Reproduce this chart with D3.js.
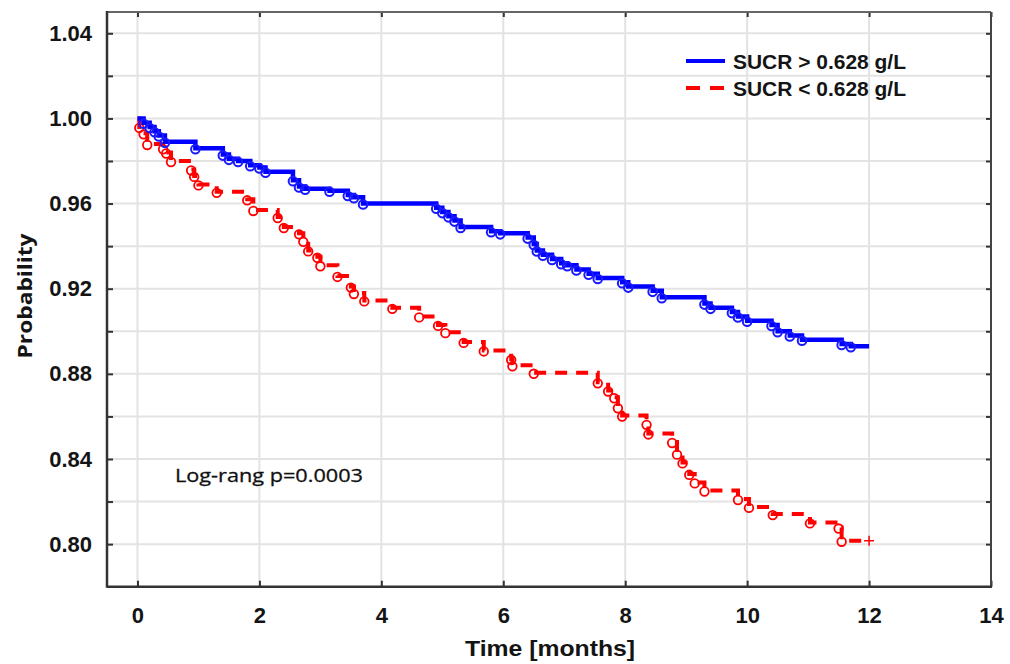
<!DOCTYPE html>
<html>
<head>
<meta charset="utf-8">
<script src="https://cdn.jsdelivr.net/npm/d3@7"></script>
<style>
  html, body { margin: 0; padding: 0; background: #fff; }
  svg { display: block; }
</style>
</head>
<body>
<svg id="chart" width="1010" height="664"></svg>
<script>
// ---- data ----
const seriesNames = ["SUCR > 0.628 g/L", "SUCR < 0.628 g/L"];

// SUCR > 0.628 g/L (blue) : step times (months) and survival probability after each step
const blueTime = [0,0.1,0.2,0.28,0.35,0.45,0.95,1.4,1.5,1.65,1.85,2.0,2.1,2.55,2.65,2.75,3.15,3.45,3.55,3.7,4.9,5.0,5.1,5.2,5.3,5.8,5.95,6.4,6.5,6.55,6.65,6.8,6.95,7.05,7.2,7.4,7.55,7.95,8.05,8.45,8.6,9.3,9.4,9.75,9.85,10.0,10.4,10.5,10.7,10.9,11.55,11.7,12.0];
const blueSurv = [1.0,0.998,0.996,0.994,0.992,0.989,0.986,0.983,0.981,0.980,0.978,0.977,0.975,0.971,0.968,0.967,0.966,0.964,0.963,0.960,0.958,0.956,0.954,0.952,0.949,0.947,0.946,0.944,0.941,0.938,0.936,0.934,0.932,0.931,0.929,0.927,0.925,0.923,0.921,0.919,0.916,0.913,0.911,0.909,0.907,0.905,0.903,0.900,0.898,0.896,0.894,0.893,0.893];

// SUCR < 0.628 g/L (red)
const redTime = [0,0.03,0.1,0.16,0.42,0.47,0.55,0.88,0.93,1.0,1.3,1.8,1.9,2.3,2.4,2.65,2.72,2.8,2.95,3.0,3.28,3.5,3.55,3.72,4.18,4.62,4.93,5.05,5.35,5.68,6.13,6.15,6.5,7.55,7.72,7.82,7.88,7.95,8.35,8.38,8.77,8.85,8.94,9.05,9.14,9.3,9.85,10.03,10.42,11.03,11.5,11.55,12.0];
const redSurv = [1.0,0.996,0.993,0.988,0.986,0.984,0.980,0.976,0.973,0.969,0.9655,0.962,0.957,0.9537,0.949,0.946,0.9425,0.938,0.935,0.931,0.926,0.921,0.918,0.9145,0.911,0.907,0.903,0.8996,0.895,0.891,0.887,0.884,0.8805,0.876,0.8722,0.869,0.8643,0.8604,0.8565,0.852,0.848,0.8425,0.8384,0.833,0.829,0.8252,0.8212,0.8175,0.8141,0.8102,0.8078,0.8016,0.8016];

const xTicks = [0,2,4,6,8,10,12,14];
const yTicks = [0.80,0.82,0.84,0.86,0.88,0.90,0.92,0.94,0.96,0.98,1.00,1.02,1.04];
const yLabelTicks = [0.80,0.84,0.88,0.92,0.96,1.00,1.04];
const xTitle = "Time [months]";
const yTitle = "Probability";
const noteText = "Log-rang p=0.0003";

// ---- layout ----
const svg = d3.select("#chart");
const L = 107, R = 991, T = 12, B = 586.7;
const x = d3.scaleLinear().domain([-0.5, 14]).range([L, R]);
const y = d3.scaleLinear().domain([0.78, 1.05]).range([B, T]);

svg.append("rect").attr("width", 1010).attr("height", 664).attr("fill", "#fff");

// grid
const grid = svg.append("g");
grid.selectAll("line.gx").data(xTicks.filter(d => d < 14)).enter().append("line")
  .attr("x1", d => x(d)).attr("x2", d => x(d)).attr("y1", T).attr("y2", B)
  .attr("stroke", "#e3e3e3").attr("stroke-width", 2);
grid.selectAll("line.gy").data(yTicks).enter().append("line")
  .attr("x1", L).attr("x2", R).attr("y1", d => y(d)).attr("y2", d => y(d))
  .attr("stroke", "#e3e3e3").attr("stroke-width", 2);

// axes (ticks inward)
const fmtY = d3.format(".2f");
const isLabelY = d => yLabelTicks.some(v => Math.abs(v - d) < 1e-9);

const axL = svg.append("g").attr("transform", `translate(${L},0)`)
  .call(d3.axisLeft(y).tickValues(yTicks).tickSize(-6).tickPadding(15)
    .tickFormat(d => isLabelY(d) ? fmtY(d) : ""));
const axB = svg.append("g").attr("transform", `translate(0,${B})`)
  .call(d3.axisBottom(x).tickValues(xTicks).tickSize(-6).tickPadding(21)
    .tickFormat(d3.format("d")));
const axT = svg.append("g").attr("transform", `translate(0,${T})`)
  .call(d3.axisTop(x).tickValues(xTicks).tickSize(-5).tickFormat(""));
const axR = svg.append("g").attr("transform", `translate(${R},0)`)
  .call(d3.axisRight(y).tickValues(yTicks).tickSize(-5).tickFormat(""));

[axL, axB, axT, axR].forEach(a => {
  a.select(".domain").remove();
  a.selectAll(".tick line").attr("stroke", "#333").attr("stroke-width", 2);
});
[axL, axB].forEach(a => a.selectAll(".tick text")
  .attr("font-family", "'Liberation Sans', Arial, sans-serif")
  .attr("font-weight", "bold").attr("font-size", 22).attr("fill", "#141414"));

// frame
svg.append("line").attr("x1", L).attr("x2", R).attr("y1", T).attr("y2", T).attr("stroke", "#666").attr("stroke-width", 2);
svg.append("line").attr("x1", R).attr("x2", R).attr("y1", T).attr("y2", B).attr("stroke", "#444").attr("stroke-width", 2);
svg.append("line").attr("x1", L).attr("x2", L).attr("y1", T - 1).attr("y2", B + 1).attr("stroke", "#333").attr("stroke-width", 2.5);
svg.append("line").attr("x1", L).attr("x2", R + 1).attr("y1", B).attr("y2", B).attr("stroke", "#333").attr("stroke-width", 2.5);

// axis titles
svg.append("text").attr("x", 550).attr("y", 656).attr("text-anchor", "middle")
  .attr("font-family", "'Liberation Sans', Arial, sans-serif").attr("font-weight", "bold")
  .attr("font-size", 22).attr("textLength", 170).attr("lengthAdjust", "spacingAndGlyphs")
  .attr("fill", "#141414").text(xTitle);
svg.append("text").attr("transform", "translate(32,296) rotate(-90)").attr("text-anchor", "middle")
  .attr("font-family", "'Open Sans', 'Noto Sans', sans-serif").attr("font-weight", "bold")
  .attr("font-size", 19).attr("textLength", 125).attr("lengthAdjust", "spacingAndGlyphs")
  .attr("fill", "#141414").text(yTitle);

// note
svg.append("text").attr("x", 175).attr("y", 482)
  .attr("font-family", "'Open Sans', 'Noto Sans', sans-serif")
  .attr("font-size", 18).attr("textLength", 188).attr("lengthAdjust", "spacingAndGlyphs")
  .attr("fill", "#111").attr("stroke", "#111").attr("stroke-width", 0.3).text(noteText);

// curves
const line = d3.line().x(d => x(d[0])).y(d => y(d[1])).curve(d3.curveStepAfter);
const blueData = blueTime.map((t, i) => [t, blueSurv[i]]);
const redData = redTime.map((t, i) => [t, redSurv[i]]);

svg.append("path").datum(redData).attr("d", line).attr("fill", "none")
  .attr("stroke", "#ff0000").attr("stroke-width", 4).attr("stroke-dasharray", "12,9");
svg.append("g").selectAll("circle").data(redData.slice(1, -1)).enter().append("circle")
  .attr("cx", d => x(d[0])).attr("cy", d => y(d[1]) + 1).attr("r", 4.3)
  .attr("fill", "none").attr("stroke", "#ff0000").attr("stroke-width", 1.8);
// censor plus at red end
const redEnd = redData[redData.length - 1];
svg.append("path").attr("d", `M${x(redEnd[0]) - 5},${y(redEnd[1])}h10M${x(redEnd[0])},${y(redEnd[1]) - 5}v10`)
  .attr("stroke", "#ff0000").attr("stroke-width", 1.5);

svg.append("path").datum(blueData).attr("d", line).attr("fill", "none")
  .attr("stroke", "#0000ff").attr("stroke-width", 4.5);
svg.append("g").selectAll("circle").data(blueData.slice(1, -1)).enter().append("circle")
  .attr("cx", d => x(d[0])).attr("cy", d => y(d[1]) + 1).attr("r", 4.3)
  .attr("fill", "none").attr("stroke", "#1a1aff").attr("stroke-width", 2);

// legend
const leg = svg.append("g");
const legY = [61, 88];
const legColors = ["#0000ff", "#ff0000"];
leg.append("line").attr("x1", 686).attr("x2", 725).attr("y1", legY[0]).attr("y2", legY[0])
  .attr("stroke", legColors[0]).attr("stroke-width", 4);
leg.append("line").attr("x1", 686).attr("x2", 725).attr("y1", legY[1]).attr("y2", legY[1])
  .attr("stroke", legColors[1]).attr("stroke-width", 4).attr("stroke-dasharray", "14,10");
seriesNames.forEach((n, i) => {
  leg.append("text").attr("x", 733).attr("y", legY[i] + 8)
    .attr("font-family", "'Liberation Sans', Arial, sans-serif").attr("font-weight", "bold")
    .attr("font-size", 20).attr("textLength", 173).attr("lengthAdjust", "spacingAndGlyphs")
    .attr("fill", "#141414").text(n);
});
</script>
</body>
</html>
